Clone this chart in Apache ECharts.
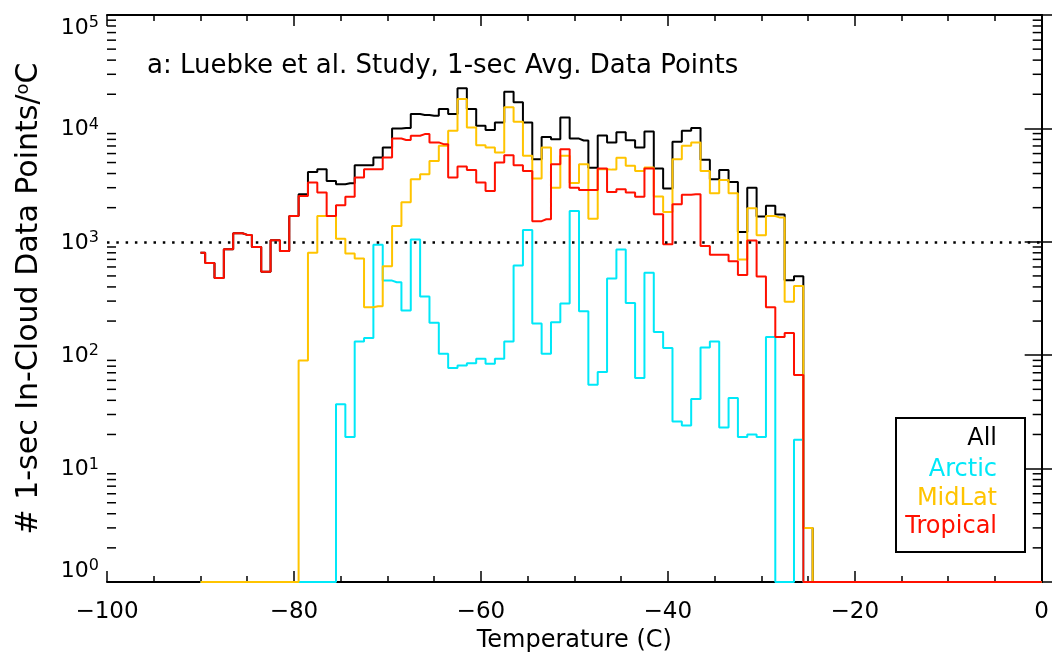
<!DOCTYPE html>
<html>
<head>
<meta charset="utf-8">
<script src="https://cdn.jsdelivr.net/npm/echarts@6.0.0/dist/echarts.min.js"></script>
<style>
  html, body { margin: 0; padding: 0; background: #fff; }
  #chart { width: 1052px; height: 663px; }
</style>
</head>
<body>
<div id="chart"></div>
<script>
// temperature bins (C), one per degree
var temps = [-90, -89, -88, -87, -86, -85, -84, -83, -82, -81,
    -80, -79, -78, -77, -76, -75, -74, -73, -72, -71,
    -70, -69, -68, -67, -66, -65, -64, -63, -62, -61,
    -60, -59, -58, -57, -56, -55, -54, -53, -52, -51,
    -50, -49, -48, -47, -46, -45, -44, -43, -42, -41,
    -40, -39, -38, -37, -36, -35, -34, -33, -32, -31,
    -30, -29, -28, -27, -26, -25, -24, -23, -22, -21,
    -20, -19, -18, -17, -16, -15, -14, -13, -12, -11,
    -10, -9, -8, -7, -6, -5, -4, -3, -2, -1, 0];

// counts per degree; empty bins sit on the floor of the log axis (1)
var allCounts = [800, 650, 480, 860, 1190, 1150, 900, 545, 1030, 830,
    1690, 2620, 4130, 4370, 3440, 3220, 3280, 4740, 4740, 5540,
    6790, 10000, 10100, 13370, 13120, 12940, 14820, 13400, 22600, 14820,
    10550, 9660, 11300, 21100, 16980, 11300, 5350, 8400, 8040, 12500,
    8130, 7820, 4500, 8650, 7520, 9260, 7880, 6790, 9400, 4430,
    2950, 7620, 9520, 10070, 5280, 3560, 4300, 3370, 1220, 3000,
    1670, 2080, 1745, 457, 497, 3, 1, 1, 1, 1,
    1, 1, 1, 1, 1, 1, 1, 1, 1, 1,
    1, 1, 1, 1, 1, 1, 1, 1, 1, 1, 1];

var arcticCounts = [1, 1, 1, 1, 1, 1, 1, 1, 1, 1,
    1, 1, 1, 1, 1, 37, 19, 132, 142, 940,
    455, 440, 248, 1050, 329, 193, 103, 77, 81, 85,
    93, 84, 93, 132, 618, 1270, 190, 103, 195, 285,
    1870, 244, 55, 71, 475, 857, 289, 63, 533, 160,
    116, 26, 24, 41, 117, 132, 23, 42, 19, 20,
    19, 145, 1, 1, 18, 1, 1, 1, 1, 1,
    1, 1, 1, 1, 1, 1, 1, 1, 1, 1,
    1, 1, 1, 1, 1, 1, 1, 1, 1, 1, 1];

var midlatCounts = [1, 1, 1, 1, 1, 1, 1, 1, 1, 1,
    1, 90, 800, 1690, 1690, 1065, 790, 713, 265, 270,
    610, 1380, 2230, 3560, 3950, 5170, 7020, 9520, 18150, 10200,
    7120, 6790, 6140, 15350, 11430, 5730, 3610, 6790, 3000, 5730,
    3300, 4830, 1600, 4370, 4330, 5500, 4680, 4220, 4520, 2505,
    1830, 5350, 7020, 7520, 4220, 2680, 3510, 2680, 699, 1980,
    1143, 1687, 1634, 296, 408, 3, 1, 1, 1, 1,
    1, 1, 1, 1, 1, 1, 1, 1, 1, 1,
    1, 1, 1, 1, 1, 1, 1, 1, 1, 1, 1];

var tropicalCounts = [800, 650, 480, 860, 1190, 1150, 900, 545, 1030, 830,
    1690, 2540, 3330, 2720, 1690, 2100, 2500, 3690, 4370, 4370,
    5540, 8150, 7900, 8610, 8910, 7520, 7260, 3690, 4610, 4300,
    3330, 2810, 5010, 5810, 4740, 4220, 1520, 1580, 4830, 6560,
    3000, 2870, 2860, 4430, 2750, 2900, 2720, 2500, 4430, 1750,
    950, 2140, 2600, 2620, 920, 770, 770, 675, 510, 1025,
    495, 265, 145, 157, 67, 1, 1, 1, 1, 1,
    1, 1, 1, 1, 1, 1, 1, 1, 1, 1,
    1, 1, 1, 1, 1, 1, 1, 1, 1, 1, 1];

var seriesNames = ['All', 'Arctic', 'MidLat', 'Tropical'];
var seriesColors = ['#000000', '#00e8f8', '#ffc400', '#ff1000'];

// minor ticks of the log axis (2..9 per decade)
var logMinorTicks = [2, 3, 4, 5, 6, 7, 8, 9,
    20, 30, 40, 50, 60, 70, 80, 90,
    200, 300, 400, 500, 600, 700, 800, 900,
    2000, 3000, 4000, 5000, 6000, 7000, 8000, 9000,
    20000, 30000, 40000, 50000, 60000, 70000, 80000, 90000];

var FONT = 'DejaVu Sans';

function pairs(values) {
    return temps.map(function (t, i) { return [t, values[i]]; });
}

function stepSeries(idx, values) {
    var s = {
        name: seriesNames[idx],
        type: 'line',
        step: 'middle',
        data: pairs(values),
        symbol: 'none',
        clip: false,
        silent: true,
        animation: false,
        lineStyle: { color: seriesColors[idx], width: 2 },
        itemStyle: { color: seriesColors[idx] }
    };
    return s;
}

// one legend per entry so the texts line up on the right
function legendEntry(idx, top) {
    return {
        orient: 'vertical',
        right: 55,
        top: top,
        padding: 0,
        itemWidth: 0,
        itemHeight: 0,
        icon: 'rect',
        selectedMode: false,
        data: [{ name: seriesNames[idx], textStyle: { color: seriesColors[idx] } }],
        textStyle: { fontFamily: FONT, fontSize: 24, color: seriesColors[idx] }
    };
}

var allSeries = stepSeries(0, allCounts);
allSeries.markLine = {
    silent: true,
    symbol: 'none',
    label: { show: false },
    animation: false,
    lineStyle: { color: '#000', type: [2.5, 6.8], width: 2.5 },
    data: [{ yAxis: 1000 }]
};

var option = {
    backgroundColor: '#fff',
    animation: false,
    textStyle: { fontFamily: FONT },
    title: {
        text: 'a: Luebke et al. Study, 1-sec Avg. Data Points',
        left: 147,
        top: 53,
        padding: 0,
        textStyle: { fontFamily: FONT, fontSize: 26, fontWeight: 'normal', color: '#000' }
    },
    legend: [legendEntry(0, 427), legendEntry(1, 458), legendEntry(2, 487), legendEntry(3, 515)],
    graphic: [{
        type: 'rect',
        shape: { x: 896, y: 418, width: 129, height: 134 },
        style: { fill: 'none', stroke: '#000', lineWidth: 2 },
        silent: true,
        z: 100
    }],
    grid: { left: 107, right: 10, top: 15, bottom: 81, containLabel: false },
    xAxis: [{
        type: 'value',
        min: -100,
        max: 0,
        interval: 20,
        name: 'Temperature (C)',
        nameLocation: 'middle',
        nameGap: 43,
        nameTextStyle: { fontFamily: FONT, fontSize: 24, color: '#000' },
        axisLine: { lineStyle: { color: '#000', width: 2 } },
        axisTick: { inside: true, length: 11, lineStyle: { color: '#000', width: 1.5 } },
        minorTick: { show: true, splitNumber: 4, length: 6, lineStyle: { color: '#000', width: 1.5 } },
        splitLine: { show: false },
        axisLabel: {
            margin: 19,
            fontFamily: FONT,
            fontSize: 23,
            color: '#000',
            formatter: function (v) { return String(v).replace('-', '\u2212'); }
        }
    }, {
        type: 'value',
        position: 'top',
        min: -100,
        max: 0,
        interval: 20,
        axisLine: { lineStyle: { color: '#000', width: 2 } },
        axisTick: { inside: true, length: 11, lineStyle: { color: '#000', width: 1.5 } },
        minorTick: { show: true, splitNumber: 4, length: 6, lineStyle: { color: '#000', width: 1.5 } },
        splitLine: { show: false },
        axisLabel: { show: false }
    }],
    yAxis: [{
        type: 'log',
        logBase: 10,
        min: 1,
        max: 100000,
        name: '# 1-sec In-Cloud Data Points/{sup|o}C',
        nameLocation: 'middle',
        nameGap: 63,
        nameTextStyle: {
            fontFamily: FONT, fontSize: 30, color: '#000',
            rich: { sup: { fontFamily: FONT, fontSize: 18, verticalAlign: 'top', color: '#000' } }
        },
        axisLine: { lineStyle: { color: '#000', width: 2 } },
        axisTick: { inside: true, length: 17, lineStyle: { color: '#000', width: 1.5 } },
        splitLine: { show: false },
        axisLabel: {
            margin: 8,
            verticalAlignMinLabel: 'bottom',
            verticalAlignMaxLabel: 'top',
            formatter: function (v) {
                return '{base|10}{sup|' + Math.round(Math.log10(v)) + '}';
            },
            rich: {
                base: { fontFamily: FONT, fontSize: 22, lineHeight: 24, color: '#000', verticalAlign: 'bottom' },
                sup: { fontFamily: FONT, fontSize: 16, lineHeight: 16, color: '#000', verticalAlign: 'top' }
            }
        }
    }, {
        type: 'log',
        logBase: 10,
        position: 'right',
        min: 1,
        max: 100000,
        axisLine: { lineStyle: { color: '#000', width: 2 } },
        axisTick: { inside: true, length: 17, lineStyle: { color: '#000', width: 1.5 } },
        splitLine: { show: false },
        axisLabel: { show: false }
    }],
    series: [
        allSeries,
        stepSeries(1, arcticCounts),
        stepSeries(2, midlatCounts),
        stepSeries(3, tropicalCounts),
        {
            // log minor ticks on both vertical axes
            type: 'custom',
            silent: true,
            animation: false,
            xAxisIndex: 0,
            yAxisIndex: 0,
            data: logMinorTicks.map(function (v) { return [-100, v]; }),
            renderItem: function (params, api) {
                var cs = params.coordSys;
                var y = api.coord([-100, api.value(1)])[1];
                var st = { stroke: '#000', lineWidth: 1.5 };
                return {
                    type: 'group',
                    children: [
                        { type: 'line', shape: { x1: cs.x, y1: y, x2: cs.x + 9, y2: y }, style: st },
                        { type: 'line', shape: { x1: cs.x + cs.width - 9, y1: y, x2: cs.x + cs.width, y2: y }, style: st }
                    ]
                };
            }
        }
    ]
};

var chart = echarts.init(document.getElementById('chart'), null, { renderer: 'canvas' });
chart.setOption(option);
</script>
</body>
</html>
